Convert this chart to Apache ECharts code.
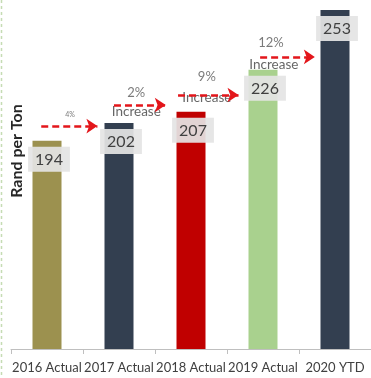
<!DOCTYPE html>
<html>
<head>
<meta charset="utf-8">
<script src="https://cdn.jsdelivr.net/npm/echarts@6/dist/echarts.min.js"></script>
<style>
  html, body { margin: 0; padding: 0; background: #fff; }
  #chart { width: 371px; height: 378px; }
</style>
</head>
<body>
<div id="chart"></div>
<script>
// Cost per ton by year
const years = ['2016 Actual', '2017 Actual', '2018 Actual', '2019 Actual', '2020 YTD'];
const randPerTon = [194, 202, 207, 226, 253];
const barColors = ['#9c914f', '#333f50', '#c00000', '#a9d18e', '#333f50'];

// Year-on-year increase arrows (x in category units, y in Rand per Ton)
const arrowStart = [-0.08, 0.93, 1.82, 2.96];
const arrowEnd = [0.70, 1.65, 2.66, 3.72];
const arrowLevel = [200.6, 210.1, 214.6, 231.8];

// Increase annotations: [x, y, text, font size]
const pctNotes = [
  [0.32, 205.6, '4%', 7],
  [1.24, 215.5, '2%', 13],
  [2.22, 222.7, '9%', 13],
  [3.11, 238.1, '12%', 13]
];
const increaseNotes = [
  [1.24, 207.0, 'Increase'],
  [2.22, 213.3, 'Increase'],
  [3.15, 228.2, 'Increase']
];

const FONT = 'Lato, "Open Sans", sans-serif';
const chart = echarts.init(document.getElementById('chart'), null, { renderer: 'canvas' });

chart.setOption({
  animation: false,
  backgroundColor: '#ffffff',
  grid: { left: 11, right: -10, top: 5.5, bottom: 29, containLabel: false },
  xAxis: [
    {
      type: 'category',
      data: years,
      boundaryGap: true,
      axisLine: { show: true, lineStyle: { color: '#bfbfbf', width: 1 } },
      axisTick: { show: true, length: 5, lineStyle: { color: '#bfbfbf' } },
      axisLabel: {
        interval: 0, hideOverlap: false,
        color: '#404040', fontSize: 13, fontFamily: FONT, margin: 12
      }
    },
    { type: 'value', min: -0.5, max: 4.5, show: false }
  ],
  yAxis: {
    type: 'value', min: 100, max: 255, show: false, splitLine: { show: false }
  },
  graphic: [
    {
      type: 'text',
      x: 17, y: 151, rotation: Math.PI / 2,
      style: {
        text: 'Rand per Ton', fill: '#262626',
        font: 'bold 16px ' + FONT, textAlign: 'center', textVerticalAlign: 'middle'
      }
    },
    {
      type: 'line',
      shape: { x1: 1.5, y1: 0, x2: 1.5, y2: 378 },
      style: { stroke: '#c5dcb4', lineWidth: 1.5, lineDash: [3, 3] }
    }
  ],
  series: [
    {
      type: 'bar',
      barWidth: 29,
      data: randPerTon.map((v, i) => ({ value: v, itemStyle: { color: barColors[i] } })),
      label: {
        show: true,
        position: 'insideTop',
        distance: 6,
        offset: [2, 0],
        color: '#404040',
        fontSize: 16,
        fontFamily: FONT,
        lineHeight: 18,
        backgroundColor: 'rgba(228,228,228,0.93)',
        padding: [4, 7, 3, 7]
      },
      z: 2
    },
    {
      type: 'scatter',
      xAxisIndex: 1,
      symbolSize: 0,
      data: pctNotes,
      label: {
        show: true, position: 'inside',
        formatter: p => p.value[2],
        color: '#595959', fontFamily: FONT
      },
      labelLayout: p => ({}),
      z: 3
    },
    {
      type: 'scatter',
      xAxisIndex: 1,
      symbolSize: 0,
      data: increaseNotes,
      label: {
        show: true, position: 'inside',
        formatter: p => p.value[2],
        color: '#404040', fontFamily: FONT,
        fontSize: 13.5
      },
      z: 3,
      markLine: {
        silent: true,
        symbol: ['none', 'arrow'],
        symbolSize: 11,
        label: { show: false },
        lineStyle: { color: '#e3161b', type: [7, 4], width: 2.5 },
        data: arrowStart.map((s, i) => [
          { coord: [s, arrowLevel[i]] },
          { coord: [arrowEnd[i], arrowLevel[i]] }
        ]),
        z: 5
      }
    }
  ]
});

// Per-note font sizes for the percentage labels
chart.setOption({
  series: [{}, {
    data: pctNotes.map(n => ({ value: n.slice(0, 3), label: { fontSize: n[3] } }))
  }, {}]
});
</script>
</body>
</html>
